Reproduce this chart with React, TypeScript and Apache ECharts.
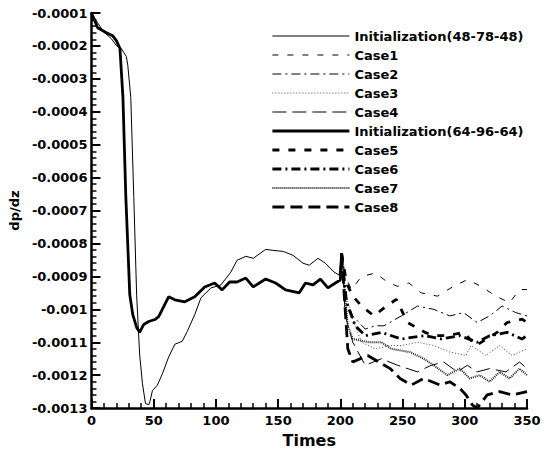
import React, { useEffect, useRef } from "react";
import * as echarts from "echarts";

// Time axis ticks / value axis ticks
const xTicks = { min: 0, max: 350, interval: 50 };
const yTicks = { min: -0.0013, max: -0.0001, interval: 0.0001 };

const seriesNames = [
  "Initialization(48-78-48)",
  "Case1",
  "Case2",
  "Case3",
  "Case4",
  "Initialization(64-96-64)",
  "Case5",
  "Case6",
  "Case7",
  "Case8",
];

// Initialization(48-78-48)
const initAT = [0, 5, 10, 16, 20, 24, 28, 29.2, 31.6, 34, 36.3, 38.7, 41, 43.4, 46, 47, 49, 53, 57, 62, 67, 73, 77, 83, 88, 96, 104, 112, 117, 124, 130, 140, 146, 154, 162, 170, 175, 182, 188, 195, 199, 201];
const initAV = [-0.0001, -0.00013, -0.000158, -0.000178, -0.000199, -0.000208, -0.000232, -0.000259, -0.000357, -0.000657, -0.000956, -0.001136, -0.001226, -0.001286, -0.00129, -0.00128, -0.001247, -0.00123, -0.001196, -0.001145, -0.001106, -0.001097, -0.001067, -0.001016, -0.000965, -0.000935, -0.000926, -0.000887, -0.000851, -0.000839, -0.000845, -0.000818, -0.000821, -0.000824, -0.000836, -0.00086, -0.000866, -0.000845, -0.00086, -0.000887, -0.000896, -0.00083];

// Initialization(64-96-64)
const initBT = [0, 5, 12, 17, 20, 21.5, 22.9, 25.3, 27.6, 30.8, 33.2, 36.3, 38.7, 42, 46, 51, 54, 62, 67, 75, 83, 91, 99, 105, 111, 117, 124, 130, 140, 148, 156, 167, 172, 178, 184, 190, 196, 200, 201];
const initBV = [-0.0001, -0.000145, -0.00016, -0.000169, -0.000184, -0.000196, -0.000208, -0.000357, -0.000657, -0.000956, -0.001016, -0.001055, -0.00107, -0.001046, -0.001037, -0.001031, -0.001022, -0.000962, -0.000971, -0.000977, -0.000962, -0.000932, -0.00092, -0.000941, -0.000917, -0.000917, -0.000905, -0.000932, -0.000908, -0.00092, -0.000941, -0.00095, -0.00092, -0.000926, -0.000908, -0.000935, -0.00092, -0.000911, -0.00083];

const case1T = [201, 204, 209, 217, 228, 239, 246, 255, 265, 278, 291, 302, 313, 325, 336, 344, 350];
const case1V = [-0.00083, -0.0009, -0.00094, -0.0009, -0.00089, -0.00092, -0.00093, -0.00092, -0.00095, -0.00096, -0.00093, -0.00091, -0.00093, -0.00096, -0.00098, -0.00094, -0.00094];

const case2T = [201, 204, 210, 220, 228, 235, 249, 262, 275, 288, 299, 310, 320, 330, 341, 350];
const case2V = [-0.00083, -0.00096, -0.00102, -0.00106, -0.00105, -0.00105, -0.00102, -0.00099, -0.001, -0.00102, -0.00101, -0.00104, -0.00102, -0.00099, -0.00101, -0.00102];

const case3T = [201, 204, 210, 217, 228, 240, 249, 262, 275, 288, 301, 305, 317, 328, 338, 350];
const case3V = [-0.00083, -0.00095, -0.00103, -0.0011, -0.00112, -0.00111, -0.00111, -0.0011, -0.00111, -0.00113, -0.00114, -0.00111, -0.00114, -0.00111, -0.00114, -0.00112];

const case4T = [201, 204, 210, 220, 233, 246, 262, 273, 283, 294, 302, 310, 320, 333, 344, 350];
const case4V = [-0.00083, -0.00102, -0.0011, -0.00117, -0.00115, -0.00117, -0.00119, -0.00117, -0.00116, -0.00119, -0.00117, -0.00119, -0.00118, -0.00119, -0.00116, -0.00118];

const case5T = [201, 205, 210, 217, 227, 237, 245, 254, 268, 275, 286, 299, 309, 326, 334, 346, 350];
const case5V = [-0.00083, -0.00092, -0.00096, -0.00099, -0.00102, -0.00099, -0.00097, -0.00104, -0.00107, -0.00108, -0.00108, -0.00107, -0.00111, -0.00107, -0.00104, -0.00103, -0.00104];

const case6T = [201, 205, 212, 220, 233, 249, 268, 281, 296, 310, 320, 334, 346, 350];
const case6V = [-0.00083, -0.00098, -0.00105, -0.00108, -0.00107, -0.00109, -0.00108, -0.00109, -0.00108, -0.0011, -0.00108, -0.00107, -0.00109, -0.00108];

const case7T = [201, 203, 206, 210, 223, 233, 241, 256, 267, 275, 286, 296, 304, 312, 320, 328, 336, 344, 350];
const case7V = [-0.00083, -0.00092, -0.00105, -0.00109, -0.0011, -0.0011, -0.00112, -0.00113, -0.00115, -0.00117, -0.0012, -0.00118, -0.00121, -0.0012, -0.00122, -0.00119, -0.00121, -0.00118, -0.0012];

const case8T = [201, 203, 206, 210, 222, 240, 248, 257, 267, 280, 288, 296, 301, 306, 310, 318, 328, 338, 350];
const case8V = [-0.00083, -0.00095, -0.00112, -0.00116, -0.00114, -0.00118, -0.00121, -0.00123, -0.00121, -0.00123, -0.00122, -0.00124, -0.00126, -0.00129, -0.0013, -0.00126, -0.00125, -0.00126, -0.00125];

const seriesTimes = [initAT, case1T, case2T, case3T, case4T, initBT, case5T, case6T, case7T, case8T];
const seriesValues = [initAV, case1V, case2V, case3V, case4V, initBV, case5V, case6V, case7V, case8V];

const THIN = 1;
const THICK = 2.8;
const styles: { width: number; type: any; color: string }[] = [
  { width: THIN, type: "solid", color: "#000" },
  { width: THIN, type: [6, 9], color: "#000" },
  { width: THIN, type: [9, 4, 2, 4], color: "#000" },
  { width: THIN, type: [1, 2], color: "#444" },
  { width: THIN, type: [14, 6], color: "#000" },
  { width: THICK, type: "solid", color: "#000" },
  { width: THICK, type: [7, 9], color: "#000" },
  { width: THICK, type: [9, 4, 2, 4], color: "#000" },
  { width: 2, type: [1, 1], color: "#222" },
  { width: THICK, type: [12, 6], color: "#000" },
];

const FONT = "DejaVu Sans";

export default function App() {
  const ref = useRef<HTMLDivElement>(null);
  useEffect(() => {
    const chart = echarts.init(ref.current!, null, { renderer: "svg" });
    const series = seriesNames.map((name, i) => ({
      name,
      type: "line",
      symbol: "none",
      showSymbol: false,
      data: seriesTimes[i].map((t, j) => [t, seriesValues[i][j]]),
      lineStyle: { width: styles[i].width, type: styles[i].type, color: styles[i].color },
      itemStyle: { color: styles[i].color },
      z: i === 0 || i === 5 ? 3 : 2,
    }));
    chart.setOption({
      animation: false,
      backgroundColor: "#fff",
      grid: { left: 85, right: 23, top: 13, bottom: 41, containLabel: false },
      legend: {
        orient: "vertical",
        left: 266,
        top: 24,
        itemWidth: 77,
        itemHeight: 14,
        itemGap: 5,
        data: seriesNames.map((name, i) => ({
          name,
          lineStyle: { width: styles[i].width, type: styles[i].type, color: styles[i].color },
        })),
        selectedMode: false,
        itemStyle: { color: "transparent", borderColor: "transparent", borderWidth: 0, opacity: 0 },
        textStyle: {
          fontFamily: FONT,
          fontWeight: "bold",
          fontSize: 13,
          lineHeight: 14,
          color: "#000",
        },
      },
      xAxis: {
        type: "value",
        min: xTicks.min,
        max: xTicks.max,
        interval: xTicks.interval,
        name: "Times",
        nameLocation: "middle",
        nameGap: 21,
        nameTextStyle: { fontFamily: FONT, fontWeight: "bold", fontSize: 16, color: "#000" },
        axisLine: { show: true, onZero: false, lineStyle: { color: "#000", width: 2.5 } },
        axisTick: { show: true, inside: true, length: 9, lineStyle: { color: "#000", width: 2 } },
        minorTick: { show: true, splitNumber: 5, length: 5, lineStyle: { color: "#000", width: 1.5 } },
        axisLabel: { fontFamily: FONT, fontWeight: "bold", fontSize: 13, color: "#000", margin: 6 },
        splitLine: { show: false },
      },
      yAxis: {
        type: "value",
        min: yTicks.min,
        max: yTicks.max,
        interval: yTicks.interval,
        name: "dp/dz",
        nameLocation: "middle",
        nameRotate: 90,
        nameGap: 58,
        nameTextStyle: { fontFamily: FONT, fontWeight: "bold", fontSize: 13, color: "#000" },
        axisLine: { show: true, onZero: false, lineStyle: { color: "#000", width: 2.5 } },
        axisTick: { show: true, inside: true, length: 9, lineStyle: { color: "#000", width: 2 } },
        minorTick: { show: true, splitNumber: 5, length: 5, lineStyle: { color: "#000", width: 1.5 } },
        axisLabel: {
          fontFamily: FONT,
          fontWeight: "bold",
          fontSize: 13,
          color: "#000",
          margin: 4,
          formatter: (v: number) => String(parseFloat(v.toPrecision(6))),
        },
        splitLine: { show: false },
      },
      series,
    });
    return () => chart.dispose();
  }, []);
  return (
    <div
      ref={ref}
      style={{ position: "absolute", left: 0, top: 0, width: 550, height: 453, background: "#fff" }}
    />
  );
}
